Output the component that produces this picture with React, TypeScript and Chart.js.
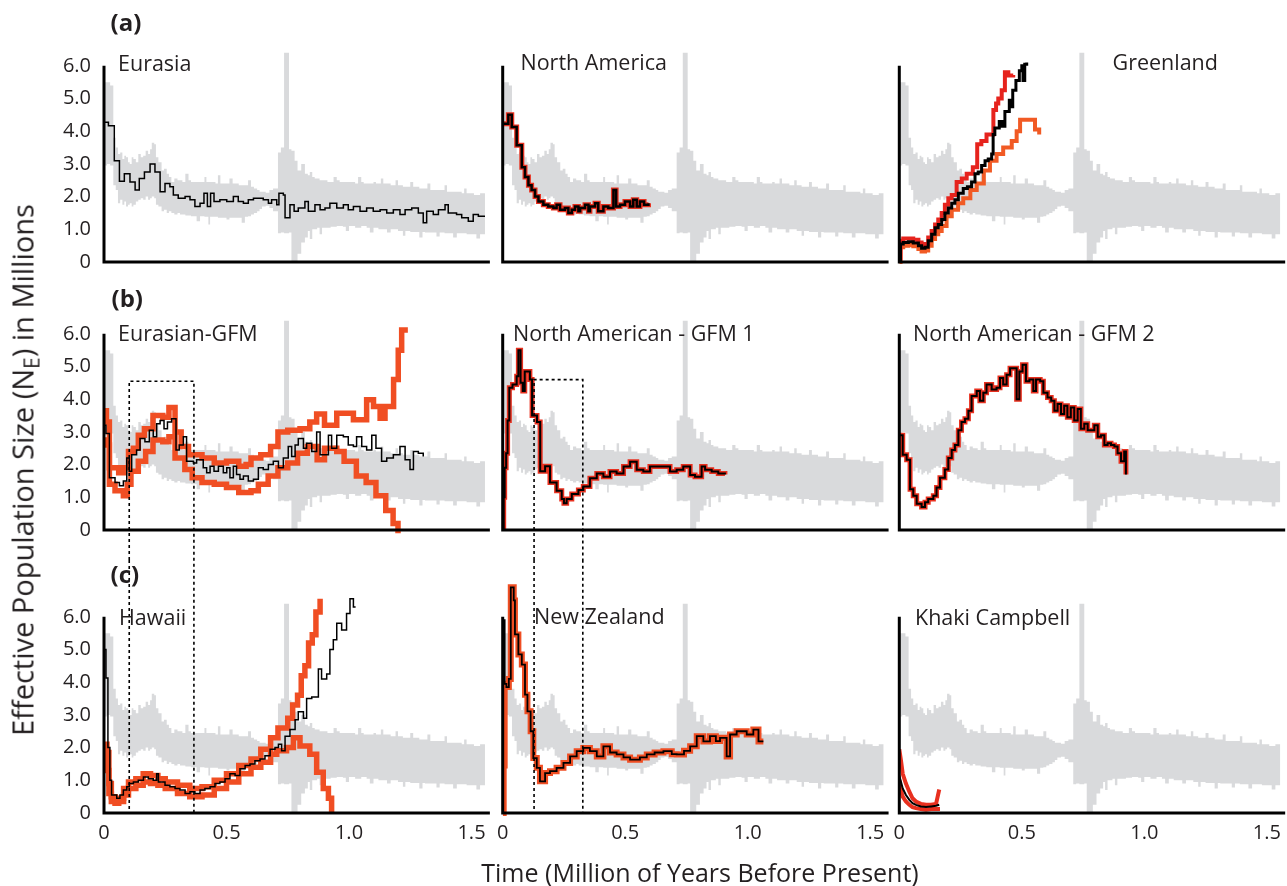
import React, { useEffect, useRef } from 'react';
import { Chart, registerables } from 'chart.js';

Chart.register(...registerables);

type Pair = [number, number];
type Triple = [number, number, number];

// ---------------- data ----------------
const xTicks = [0, 0.5, 1.0, 1.5];
const yTicks = [0, 1, 2, 3, 4, 5, 6];

// shared Eurasia bootstrap envelope (grey band): [time, upper, lower]
const greyBand: Triple[] = [
  [0, 5.5, 2.95], [0.012, 5.5, 3.0], [0.025, 5.4, 2.95], [0.038, 3.8, 2.35], [0.048, 3.5, 2.2], [0.057, 3.3, 1.8],
  [0.066, 3.35, 1.9], [0.075, 3.15, 1.75], [0.083, 3.25, 1.85], [0.09, 3.2, 1.7], [0.098, 3.05, 1.75], [0.105, 3.0, 1.8],
  [0.113, 3.2, 1.7], [0.12, 3.15, 1.75], [0.13, 3.05, 1.85], [0.14, 3.3, 1.9], [0.15, 3.2, 1.95], [0.16, 3.25, 1.9],
  [0.17, 3.4, 2.0], [0.18, 3.3, 1.9], [0.188, 3.45, 1.95], [0.195, 3.65, 2.0], [0.205, 3.6, 1.95], [0.212, 3.2, 1.75],
  [0.222, 3.05, 1.7], [0.235, 2.8, 1.55], [0.245, 2.85, 1.6], [0.256, 2.7, 1.5], [0.265, 2.6, 1.55], [0.275, 2.45, 1.5],
  [0.287, 2.55, 1.45], [0.3, 2.5, 1.5], [0.31, 2.5, 1.45], [0.32, 2.45, 1.45], [0.332, 2.7, 1.42], [0.345, 2.5, 1.42],
  [0.355, 2.45, 1.4], [0.365, 2.45, 1.4], [0.378, 2.45, 1.25], [0.392, 2.45, 1.4], [0.402, 2.45, 1.4], [0.41, 2.6, 1.38],
  [0.418, 2.45, 1.38], [0.426, 2.45, 1.15], [0.433, 2.45, 1.38], [0.445, 2.45, 1.38], [0.455, 2.4, 1.38], [0.465, 2.65, 1.35],
  [0.475, 2.4, 1.35], [0.487, 2.4, 1.35], [0.5, 2.4, 1.3], [0.512, 2.55, 1.35], [0.525, 2.4, 1.35], [0.537, 2.4, 1.35],
  [0.55, 2.35, 1.35], [0.562, 2.35, 1.2], [0.575, 2.35, 1.38], [0.588, 2.5, 1.4], [0.6, 2.3, 1.45], [0.612, 2.25, 1.5],
  [0.625, 2.2, 1.55], [0.635, 2.15, 1.62], [0.645, 2.15, 1.7], [0.66, 2.12, 1.72], [0.675, 2.2, 1.65], [0.69, 2.25, 1.55],
  [0.71, 3.35, 0.88], [0.722, 3.5, 0.9], [0.735, 6.4, 0.88], [0.755, 3.45, 0.9], [0.765, 3.4, 0.0], [0.778, 3.1, 0.0],
  [0.79, 2.8, 0.25], [0.805, 3.0, 0.6], [0.82, 2.7, 0.75], [0.832, 2.65, 0.95], [0.84, 2.75, 0.7], [0.85, 2.6, 1.0],
  [0.86, 2.55, 1.0], [0.87, 2.55, 1.05], [0.88, 2.5, 0.85], [0.89, 2.5, 1.05], [0.9, 2.5, 1.05], [0.912, 2.45, 1.05],
  [0.925, 2.45, 1.08], [0.937, 2.6, 1.08], [0.95, 2.5, 1.1], [0.962, 2.45, 1.1], [0.975, 2.45, 1.08], [0.987, 2.45, 0.95],
  [1.0, 2.45, 1.1], [1.012, 2.45, 1.1], [1.025, 2.4, 1.05], [1.037, 2.6, 1.05], [1.05, 2.45, 1.1], [1.06, 2.4, 1.1],
  [1.072, 2.4, 1.05], [1.085, 2.4, 0.9], [1.1, 2.45, 1.05], [1.11, 2.4, 1.05], [1.12, 2.4, 1.0], [1.13, 2.55, 1.0],
  [1.14, 2.4, 1.0], [1.155, 2.4, 0.9], [1.17, 2.35, 1.0], [1.18, 2.35, 1.0], [1.19, 2.5, 1.0], [1.2, 2.35, 0.95],
  [1.21, 2.35, 0.95], [1.22, 2.3, 0.8], [1.23, 2.3, 0.95], [1.24, 2.3, 0.95], [1.25, 2.45, 0.92], [1.262, 2.3, 0.92],
  [1.275, 2.3, 0.92], [1.287, 2.25, 0.75], [1.3, 2.25, 0.92], [1.31, 2.25, 0.9], [1.32, 2.4, 0.9], [1.332, 2.2, 0.9],
  [1.345, 2.2, 0.9], [1.357, 2.2, 0.78], [1.37, 2.2, 0.9], [1.38, 2.2, 0.9], [1.39, 2.35, 0.88], [1.4, 2.15, 0.88],
  [1.41, 2.15, 0.88], [1.425, 2.15, 0.75], [1.44, 2.15, 0.88], [1.45, 2.15, 0.88], [1.46, 2.1, 0.88], [1.47, 2.25, 0.88],
  [1.48, 2.1, 0.85], [1.49, 2.1, 0.85], [1.5, 2.1, 0.85], [1.51, 2.05, 0.85], [1.52, 2.05, 0.72], [1.535, 2.1, 0.85],
  [1.555, 2.1, 0.85],
];

// (a) Eurasia
const eurasiaNe: Pair[] = [[0, 4.27], [0.018, 4.17], [0.042, 3.1], [0.063, 2.47], [0.083, 2.7], [0.106, 2.45], [0.127, 2.2], [0.144, 2.55], [0.165, 2.75], [0.188, 3.0], [0.208, 2.75], [0.229, 2.15], [0.249, 2.4], [0.269, 2.3], [0.283, 2.05], [0.303, 1.95], [0.331, 2.0], [0.351, 1.9], [0.371, 1.7], [0.392, 1.8], [0.408, 2.1], [0.422, 1.7], [0.435, 2.1], [0.449, 1.85], [0.473, 1.9], [0.501, 1.85], [0.528, 2.0], [0.548, 1.85], [0.569, 1.8], [0.589, 1.9], [0.61, 1.95], [0.65, 1.9], [0.671, 1.8], [0.684, 1.9], [0.705, 1.75], [0.714, 2.1], [0.732, 2.05], [0.739, 1.35], [0.759, 1.75], [0.776, 1.55], [0.793, 1.65], [0.82, 1.85], [0.834, 1.55], [0.861, 1.75], [0.882, 1.6], [0.902, 1.65], [0.922, 1.8], [0.95, 1.65], [0.977, 1.75], [0.997, 1.6], [1.018, 1.7], [1.045, 1.55], [1.072, 1.65], [1.099, 1.55], [1.127, 1.6], [1.154, 1.5], [1.181, 1.6], [1.208, 1.45], [1.229, 1.6], [1.256, 1.65], [1.283, 1.5], [1.303, 1.2], [1.317, 1.55], [1.344, 1.45], [1.365, 1.6], [1.392, 1.75], [1.405, 1.5], [1.439, 1.45], [1.46, 1.35], [1.487, 1.25], [1.507, 1.45], [1.528, 1.4], [1.555, 1.4]];

// (a) North America
const northAmericaNe: Pair[] = [[0, 4.23], [0.023, 4.5], [0.037, 4.13], [0.057, 3.57], [0.078, 2.9], [0.091, 2.6], [0.105, 2.35], [0.118, 2.2], [0.132, 2.0], [0.146, 1.85], [0.166, 1.75], [0.186, 1.7], [0.207, 1.65], [0.22, 1.75], [0.234, 1.6], [0.254, 1.65], [0.268, 1.5], [0.282, 1.6], [0.295, 1.7], [0.309, 1.55], [0.316, 1.65], [0.336, 1.75], [0.35, 1.55], [0.356, 1.7], [0.377, 1.8], [0.39, 1.55], [0.411, 1.7], [0.431, 1.65], [0.452, 2.2], [0.463, 1.7], [0.479, 1.75], [0.499, 1.85], [0.52, 1.7], [0.533, 1.9], [0.547, 1.7], [0.56, 1.85], [0.577, 1.75], [0.595, 1.8]];

// (a) Greenland
const greenlandNe: Pair[] = [[0, 0.05], [0.005, 0.55], [0.016, 0.6], [0.037, 0.62], [0.057, 0.58], [0.078, 0.5], [0.091, 0.42], [0.105, 0.45], [0.118, 0.65], [0.132, 0.85], [0.146, 1.05], [0.159, 1.15], [0.173, 1.3], [0.186, 1.5], [0.2, 1.65], [0.214, 1.8], [0.227, 1.9], [0.241, 2.1], [0.261, 2.25], [0.278, 2.3], [0.295, 2.45], [0.309, 2.7], [0.322, 2.75], [0.336, 2.95], [0.35, 3.1], [0.363, 3.15], [0.377, 3.3], [0.383, 3.9], [0.39, 4.1], [0.408, 4.3], [0.42, 4.15], [0.431, 4.6], [0.449, 4.95], [0.456, 4.75], [0.463, 5.25], [0.476, 5.55], [0.49, 5.85], [0.5, 6.0], [0.505, 5.55], [0.512, 6.05], [0.52, 6.1]];
const greenlandUpper: Pair[] = [[0, 0.1], [0.005, 0.65], [0.016, 0.72], [0.037, 0.72], [0.057, 0.68], [0.078, 0.6], [0.091, 0.52], [0.105, 0.55], [0.118, 0.75], [0.132, 0.95], [0.146, 1.15], [0.159, 1.3], [0.173, 1.5], [0.186, 1.75], [0.2, 1.95], [0.214, 2.05], [0.234, 2.45], [0.255, 2.55], [0.275, 2.7], [0.3, 2.9], [0.318, 3.6], [0.335, 3.7], [0.356, 3.9], [0.384, 4.65], [0.395, 4.85], [0.404, 5.0], [0.418, 5.25], [0.431, 5.8], [0.445, 5.7], [0.465, 5.72]];
const greenlandLower: Pair[] = [[0, 0.0], [0.005, 0.45], [0.016, 0.5], [0.037, 0.52], [0.057, 0.48], [0.078, 0.4], [0.091, 0.32], [0.105, 0.35], [0.118, 0.5], [0.132, 0.7], [0.146, 0.85], [0.159, 0.95], [0.173, 1.1], [0.193, 1.4], [0.214, 1.6], [0.24, 1.8], [0.261, 1.95], [0.29, 2.2], [0.316, 2.4], [0.345, 2.8], [0.37, 3.1], [0.397, 3.3], [0.424, 3.5], [0.459, 3.7], [0.479, 4.0], [0.493, 4.35], [0.547, 4.35], [0.554, 4.05], [0.571, 3.9]];

// (b) Eurasian-GFM
const eurasianGfmNe: Pair[] = [[0, 3.2], [0.008, 2.95], [0.022, 1.6], [0.045, 1.45], [0.063, 1.35], [0.079, 1.5], [0.093, 2.2], [0.103, 1.8], [0.113, 2.3], [0.133, 2.45], [0.147, 2.8], [0.167, 2.7], [0.185, 3.05], [0.201, 2.85], [0.215, 3.25], [0.229, 3.35], [0.245, 3.1], [0.259, 3.3], [0.276, 3.4], [0.294, 2.45], [0.307, 2.6], [0.324, 2.85], [0.337, 2.1], [0.365, 2.05], [0.378, 2.15], [0.405, 1.9], [0.419, 1.75], [0.433, 1.95], [0.449, 1.8], [0.467, 1.95], [0.487, 1.75], [0.501, 1.9], [0.514, 1.6], [0.528, 1.95], [0.541, 1.7], [0.555, 1.55], [0.569, 1.65], [0.589, 1.5], [0.61, 1.55], [0.63, 1.9], [0.65, 1.85], [0.671, 2.0], [0.691, 2.1], [0.712, 1.9], [0.732, 2.2], [0.752, 2.55], [0.766, 2.25], [0.78, 2.6], [0.793, 2.8], [0.814, 2.5], [0.827, 2.65], [0.848, 2.4], [0.868, 3.0], [0.882, 2.3], [0.902, 2.3], [0.916, 2.9], [0.929, 2.5], [0.95, 2.9], [0.977, 2.85], [0.997, 2.6], [1.018, 2.55], [1.031, 2.85], [1.052, 2.55], [1.072, 2.45], [1.093, 2.9], [1.11, 2.5], [1.133, 2.1], [1.154, 2.2], [1.181, 2.3], [1.208, 2.55], [1.229, 2.15], [1.249, 1.85], [1.263, 2.4], [1.283, 2.35], [1.303, 2.25]];
const eurasianGfmUpper: Pair[] = [[0, 3.65], [0.01, 3.3], [0.022, 1.9], [0.06, 1.75], [0.079, 1.9], [0.1, 2.4], [0.12, 2.5], [0.14, 2.9], [0.165, 3.1], [0.2, 3.5], [0.24, 3.45], [0.265, 3.75], [0.29, 3.0], [0.315, 2.55], [0.345, 2.3], [0.4, 2.2], [0.45, 2.05], [0.5, 2.1], [0.55, 1.95], [0.58, 2.0], [0.6, 2.2], [0.64, 2.3], [0.68, 2.55], [0.71, 3.0], [0.75, 3.05], [0.8, 3.1], [0.84, 3.3], [0.868, 3.55], [0.9, 3.2], [0.95, 3.57], [1.018, 3.37], [1.072, 3.98], [1.1, 3.78], [1.127, 3.42], [1.147, 3.78], [1.182, 4.6], [1.201, 5.5], [1.215, 6.12], [1.229, 6.2]];
const eurasianGfmLower: Pair[] = [[0, 2.75], [0.01, 2.6], [0.022, 1.4], [0.045, 1.2], [0.079, 1.05], [0.095, 1.4], [0.11, 1.8], [0.14, 2.1], [0.17, 2.4], [0.2, 2.75], [0.24, 2.7], [0.265, 2.85], [0.29, 2.2], [0.33, 1.85], [0.36, 1.6], [0.4, 1.45], [0.45, 1.4], [0.5, 1.3], [0.55, 1.15], [0.6, 1.2], [0.63, 1.4], [0.67, 1.65], [0.71, 1.9], [0.75, 2.05], [0.79, 2.35], [0.83, 2.55], [0.87, 2.15], [0.9, 2.5], [0.95, 2.4], [0.98, 2.1], [1.03, 1.65], [1.07, 1.45], [1.11, 1.05], [1.15, 0.6], [1.18, 0.2], [1.2, -0.1]];

// (b) North American - GFM 1
const naGfm1Ne: Pair[] = [[0, 0.05], [0.004, 1.0], [0.008, 1.9], [0.014, 2.35], [0.02, 3.35], [0.027, 4.35], [0.04, 4.45], [0.057, 4.7], [0.064, 5.5], [0.073, 4.5], [0.082, 4.25], [0.09, 4.85], [0.111, 4.6], [0.12, 3.5], [0.14, 3.3], [0.153, 1.8], [0.173, 1.95], [0.193, 1.45], [0.22, 1.2], [0.241, 0.95], [0.25, 0.82], [0.261, 0.95], [0.282, 1.1], [0.309, 1.22], [0.329, 1.33], [0.356, 1.58], [0.384, 1.73], [0.411, 1.63], [0.438, 1.79], [0.465, 1.73], [0.493, 1.94], [0.52, 2.09], [0.547, 1.84], [0.574, 1.79], [0.601, 1.94], [0.683, 1.79], [0.71, 1.84], [0.737, 1.94], [0.765, 1.68], [0.785, 1.63], [0.812, 1.94], [0.826, 1.84], [0.853, 1.79], [0.88, 1.73], [0.907, 1.7]];

// (b) North American - GFM 2
const naGfm2Ne: Pair[] = [[0, 2.9], [0.014, 2.3], [0.03, 2.15], [0.044, 1.25], [0.057, 1.05], [0.071, 0.8], [0.091, 0.7], [0.105, 0.85], [0.118, 0.95], [0.139, 1.05], [0.152, 1.3], [0.166, 1.6], [0.186, 1.85], [0.2, 2.2], [0.214, 2.45], [0.227, 2.6], [0.241, 3.05], [0.254, 3.3], [0.268, 3.4], [0.282, 3.65], [0.295, 4.1], [0.316, 4.25], [0.329, 3.95], [0.343, 4.2], [0.356, 4.45], [0.377, 4.3], [0.397, 4.35], [0.411, 4.65], [0.424, 4.45], [0.438, 4.75], [0.452, 4.95], [0.479, 4.0], [0.49, 4.85], [0.503, 5.05], [0.517, 4.55], [0.531, 4.6], [0.547, 4.25], [0.558, 4.6], [0.575, 4.55], [0.588, 4.2], [0.605, 4.05], [0.62, 3.95], [0.633, 3.65], [0.646, 3.85], [0.66, 3.55], [0.673, 3.8], [0.686, 3.45], [0.7, 3.75], [0.714, 3.35], [0.728, 3.7], [0.741, 3.1], [0.755, 3.25], [0.769, 3.05], [0.782, 3.05], [0.796, 3.2], [0.81, 2.85], [0.823, 2.9], [0.837, 2.6], [0.85, 2.65], [0.864, 2.6], [0.878, 2.55], [0.891, 2.35], [0.905, 2.1], [0.918, 2.4], [0.925, 1.7]];

// (c) Hawaii
const hawaiiNe: Pair[] = [[0, 5.0], [0.008, 4.13], [0.016, 2.0], [0.024, 1.0], [0.031, 0.55], [0.052, 0.45], [0.065, 0.55], [0.079, 0.7], [0.093, 0.8], [0.103, 0.9], [0.12, 0.95], [0.14, 1.0], [0.161, 1.1], [0.181, 1.05], [0.201, 1.0], [0.215, 1.2], [0.222, 0.95], [0.249, 0.85], [0.269, 0.8], [0.29, 0.75], [0.31, 0.7], [0.331, 0.6], [0.351, 0.65], [0.371, 0.6], [0.392, 0.7], [0.412, 0.75], [0.433, 0.8], [0.453, 0.9], [0.473, 0.95], [0.494, 1.05], [0.514, 1.2], [0.535, 1.15], [0.555, 1.35], [0.576, 1.45], [0.596, 1.5], [0.616, 1.6], [0.637, 1.65], [0.657, 1.75], [0.678, 1.95], [0.698, 2.0], [0.712, 2.1], [0.725, 1.9], [0.739, 2.35], [0.759, 2.55], [0.78, 2.85], [0.793, 3.1], [0.814, 2.9], [0.827, 3.5], [0.848, 3.55], [0.875, 4.4], [0.888, 4.1], [0.909, 4.25], [0.922, 5.0], [0.936, 5.3], [0.95, 5.8], [0.97, 5.6], [0.99, 6.1], [1.004, 6.55], [1.018, 6.3], [1.027, 6.3]];
const hawaiiUpper: Pair[] = [[0, 2.1], [0.012, 1.85], [0.02, 0.9], [0.03, 0.5], [0.045, 0.35], [0.06, 0.45], [0.08, 0.75], [0.1, 0.95], [0.13, 1.05], [0.16, 1.2], [0.19, 1.15], [0.22, 1.05], [0.25, 0.95], [0.3, 0.85], [0.35, 0.75], [0.4, 0.8], [0.45, 1.0], [0.5, 1.2], [0.55, 1.45], [0.6, 1.65], [0.64, 1.95], [0.68, 2.3], [0.71, 2.6], [0.75, 2.9], [0.77, 3.3], [0.79, 3.6], [0.805, 4.2], [0.82, 4.5], [0.835, 5.2], [0.85, 5.45], [0.865, 6.15], [0.882, 6.55]];
const hawaiiLower: Pair[] = [[0, 1.7], [0.012, 1.3], [0.02, 0.6], [0.03, 0.35], [0.045, 0.3], [0.06, 0.35], [0.08, 0.55], [0.1, 0.75], [0.13, 0.85], [0.16, 0.95], [0.19, 0.9], [0.22, 0.85], [0.25, 0.75], [0.3, 0.6], [0.35, 0.5], [0.4, 0.55], [0.45, 0.75], [0.5, 0.95], [0.55, 1.2], [0.6, 1.4], [0.64, 1.55], [0.68, 1.8], [0.705, 1.9], [0.745, 2.0], [0.773, 2.3], [0.8, 2.05], [0.84, 1.8], [0.868, 1.25], [0.895, 0.75], [0.916, 0.45], [0.929, 0.0]];

// (c) New Zealand
const newZealandNe: Pair[] = [[0.008, 3.95], [0.015, 3.85], [0.025, 4.1], [0.033, 6.9], [0.045, 6.5], [0.05, 5.46], [0.064, 4.85], [0.078, 4.54], [0.091, 3.62], [0.101, 3.11], [0.114, 2.5], [0.125, 1.68], [0.139, 1.38], [0.152, 0.97], [0.173, 1.22], [0.193, 1.28], [0.22, 1.38], [0.248, 1.53], [0.275, 1.73], [0.302, 1.89], [0.329, 1.99], [0.356, 1.89], [0.384, 1.73], [0.411, 2.04], [0.438, 1.85], [0.465, 1.79], [0.493, 1.7], [0.52, 1.63], [0.56, 1.7], [0.588, 1.79], [0.62, 1.85], [0.656, 1.89], [0.69, 1.8], [0.71, 1.79], [0.74, 1.9], [0.765, 2.04], [0.792, 2.35], [0.819, 2.19], [0.846, 2.35], [0.87, 2.2], [0.887, 2.3], [0.914, 1.73], [0.928, 2.4], [0.955, 2.5], [0.996, 2.4], [1.023, 2.55], [1.044, 2.19], [1.064, 2.19]];
const newZealandRedStart: Pair[] = [[0, 0], [0.004, 1.45]];
const newZealandBlackStart: Pair[] = [[0, 5.9]];

// (c) Khaki Campbell
const khakiNe: Pair[] = [[0, 1.15], [0.007, 0.95], [0.014, 0.75], [0.027, 0.55], [0.041, 0.4], [0.054, 0.3], [0.068, 0.25], [0.088, 0.2], [0.109, 0.18], [0.13, 0.2], [0.15, 0.22], [0.163, 0.25]];
const khakiUpper: Pair[] = [[0, 1.95], [0.007, 1.6], [0.014, 1.2], [0.027, 0.9], [0.041, 0.65], [0.054, 0.45], [0.068, 0.35], [0.088, 0.28], [0.109, 0.25], [0.13, 0.25], [0.15, 0.28], [0.163, 0.72], [0.166, 0.72]];
const khakiLower: Pair[] = [[0, 1.0], [0.007, 0.7], [0.014, 0.5], [0.027, 0.35], [0.041, 0.25], [0.054, 0.18], [0.068, 0.15], [0.088, 0.12], [0.109, 0.1], [0.13, 0.12], [0.15, 0.12], [0.166, 0.12]];

// dotted selection boxes (time range, top value)
const eurasianBox = [0.103, 0.367];
const eurasianBoxTop = 4.55;
const northAmericanBox = [0.128, 0.327];
const northAmericanBoxTop = 4.6;

// ---------------- style / layout ----------------
const FONT = '"Open Sans", "Noto Sans", "DejaVu Sans", sans-serif';
const TEXT = '#231f20';
const GRAY = '#d9dadc';
const BLACK = '#000000';
const RED = '#e8301f';
const ORANGE_RED = '#f04e23';
const GL_RED = '#e6231d';
const GL_ORANGE = '#f15a24';

const X_UNIT = 245;
const Y_UNIT = 32.7;
const X_MIN = 0;
const X_MAX = 1.575;
const Y_MIN = -0.2;
const Y_MAX = 7.2;
const AXIS_TOP = 6;

const COLS = [
  { left: 0, width: 496, axisX: 104 },
  { left: 496, width: 397, axisX: 502.7 },
  { left: 893, width: 394, axisX: 899.3 },
];
const ROWS = [
  { top: 0, height: 290, zeroY: 262 },
  { top: 290, height: 270, zeroY: 530 },
  { top: 560, height: 326, zeroY: 813 },
];

interface Series { data: Pair[]; color: string; width: number; stepped?: boolean }
interface BoxSpec { range: number[]; top: number; part: 'upper' | 'lower' }
interface PanelSpec { row: number; col: number; lines: Series[]; box?: BoxSpec }

const PANELS: PanelSpec[] = [
  { row: 0, col: 0, lines: [{ data: eurasiaNe, color: BLACK, width: 1.5 }] },
  { row: 0, col: 1, lines: [
    { data: northAmericaNe, color: BLACK, width: 2.5 },
    { data: northAmericaNe, color: RED, width: 5 },
  ] },
  { row: 0, col: 2, lines: [
    { data: greenlandNe, color: BLACK, width: 3 },
    { data: greenlandUpper, color: GL_RED, width: 4 },
    { data: greenlandLower, color: GL_ORANGE, width: 4 },
  ] },
  { row: 1, col: 0, box: { range: eurasianBox, top: eurasianBoxTop, part: 'upper' }, lines: [
    { data: eurasianGfmNe, color: BLACK, width: 1.5 },
    { data: eurasianGfmUpper, color: ORANGE_RED, width: 5.5 },
    { data: eurasianGfmLower, color: ORANGE_RED, width: 5.5 },
  ] },
  { row: 1, col: 1, box: { range: northAmericanBox, top: northAmericanBoxTop, part: 'upper' }, lines: [
    { data: naGfm1Ne, color: BLACK, width: 2 },
    { data: naGfm1Ne, color: RED, width: 5 },
  ] },
  { row: 1, col: 2, lines: [
    { data: naGfm2Ne, color: BLACK, width: 2 },
    { data: naGfm2Ne, color: RED, width: 5 },
  ] },
  { row: 2, col: 0, box: { range: eurasianBox, top: eurasianBoxTop, part: 'lower' }, lines: [
    { data: hawaiiNe, color: BLACK, width: 1.5 },
    { data: hawaiiUpper, color: ORANGE_RED, width: 5.5 },
    { data: hawaiiLower, color: ORANGE_RED, width: 5.5 },
  ] },
  { row: 2, col: 1, box: { range: northAmericanBox, top: northAmericanBoxTop, part: 'lower' }, lines: [
    { data: [...newZealandBlackStart, ...newZealandNe], color: BLACK, width: 1.8 },
    { data: [...newZealandRedStart, ...newZealandNe], color: ORANGE_RED, width: 6 },
  ] },
  { row: 2, col: 2, lines: [
    { data: khakiNe, color: BLACK, width: 2, stepped: false },
    { data: khakiUpper, color: RED, width: 4, stepped: false },
    { data: khakiLower, color: RED, width: 4, stepped: false },
  ] },
];

const TITLES = [
  { text: 'Eurasia', x: 118, y: 63 },
  { text: 'North America', x: 520.5, y: 62.5 },
  { text: 'Greenland', x: 1112.5, y: 62 },
  { text: 'Eurasian-GFM', x: 118, y: 333.5 },
  { text: 'North American - GFM 1', x: 513, y: 333 },
  { text: 'North American - GFM 2', x: 913, y: 333 },
  { text: 'Hawaii', x: 119, y: 617 },
  { text: 'New Zealand', x: 534, y: 616 },
  { text: 'Khaki Campbell', x: 915, y: 617 },
];
const PANEL_LETTERS = [
  { text: '(a)', x: 110.5, y: 25 },
  { text: '(b)', x: 111.5, y: 301 },
  { text: '(c)', x: 110.5, y: 577 },
];

const fmt = (v: number | string) => {
  const n = Number(v);
  return n === 0 ? '0' : n.toFixed(1);
};
const toXY = (pairs: Pair[]) => pairs.map(([x, y]) => ({ x, y }));

function Panel({ spec }: { spec: PanelSpec }) {
  const ref = useRef<HTMLCanvasElement | null>(null);
  const col = COLS[spec.col];
  const row = ROWS[spec.row];
  const yW = col.axisX - col.left;
  const chartW = (X_MAX - X_MIN) * X_UNIT;
  const padR = col.width - yW - chartW;
  const chartTop = row.zeroY - Y_MAX * Y_UNIT;
  const padT = chartTop - row.top;
  const chartBottom = row.zeroY - Y_MIN * Y_UNIT;
  const xH = row.top + row.height - chartBottom;

  useEffect(() => {
    if (!ref.current) return;
    const box = spec.box;
    const decor = {
      id: 'panelDecor',
      afterDatasetsDraw(chart: any) {
        const { ctx, chartArea } = chart;
        const xs = chart.scales.x;
        const ys = chart.scales.y;
        const y0 = ys.getPixelForValue(0);
        ctx.save();
        if (box) {
          const xa = xs.getPixelForValue(box.range[0]);
          const xb = xs.getPixelForValue(box.range[1]);
          ctx.strokeStyle = '#000';
          ctx.lineWidth = 1.6;
          ctx.setLineDash([3, 3]);
          ctx.beginPath();
          if (box.part === 'upper') {
            const yt = ys.getPixelForValue(box.top);
            ctx.moveTo(xa, chart.height);
            ctx.lineTo(xa, yt);
            ctx.lineTo(xb, yt);
            ctx.lineTo(xb, chart.height);
          } else {
            ctx.moveTo(xa, 0);
            ctx.lineTo(xa, y0);
            ctx.lineTo(xb, y0);
            ctx.lineTo(xb, 0);
          }
          ctx.stroke();
          ctx.setLineDash([]);
        }
        const x0 = xs.getPixelForValue(0);
        const yTop = ys.getPixelForValue(AXIS_TOP);
        ctx.strokeStyle = '#000';
        ctx.lineWidth = 3;
        ctx.lineJoin = 'miter';
        ctx.beginPath();
        ctx.moveTo(x0, yTop);
        ctx.lineTo(x0, y0);
        ctx.lineTo(chartArea.right, y0);
        ctx.stroke();
        ctx.restore();
      },
    };

    const datasets: any[] = [
      ...spec.lines.map((s) => ({
        data: toXY(s.data),
        borderColor: s.color,
        borderWidth: s.width,
        pointRadius: 0,
        stepped: s.stepped === false ? false : true,
        tension: 0,
        fill: false,
        borderJoinStyle: 'miter',
      })),
      {
        data: greyBand.map(([t, hi]) => ({ x: t, y: hi })),
        borderColor: 'rgba(0,0,0,0)',
        borderWidth: 0,
        backgroundColor: GRAY,
        fill: '+1',
        pointRadius: 0,
        stepped: true,
      },
      {
        data: greyBand.map(([t, , lo]) => ({ x: t, y: lo })),
        borderColor: 'rgba(0,0,0,0)',
        borderWidth: 0,
        backgroundColor: GRAY,
        fill: false,
        pointRadius: 0,
        stepped: true,
      },
    ];

    const chart = new Chart(ref.current, {
      type: 'line',
      data: { datasets },
      plugins: [decor],
      options: {
        responsive: false,
        animation: false,
        events: [],
        layout: { padding: { left: 0, right: padR, top: padT, bottom: 0 } },
        plugins: { legend: { display: false }, tooltip: { enabled: false }, title: { display: false } },
        scales: {
          x: {
            type: 'linear',
            min: X_MIN,
            max: X_MAX,
            grid: { display: false, drawTicks: false },
            border: { display: false },
            ticks: {
              display: spec.row === 2,
              padding: 2,
              maxRotation: 0,
              autoSkip: false,
              color: TEXT,
              font: { family: FONT, size: 20 },
              callback: fmt,
            },
            afterBuildTicks: (s: any) => { s.ticks = xTicks.map((v) => ({ value: v })); },
            afterFit: (s: any) => {
              s.height = xH;
              s.paddingLeft = 0; s.paddingRight = 0; s.paddingTop = 0; s.paddingBottom = 0;
            },
          },
          y: {
            type: 'linear',
            min: Y_MIN,
            max: Y_MAX,
            grid: { display: false, drawTicks: false },
            border: { display: false },
            ticks: {
              display: spec.col === 0,
              padding: 13,
              color: TEXT,
              font: { family: FONT, size: 20 },
              callback: fmt,
            },
            afterBuildTicks: (s: any) => { s.ticks = yTicks.map((v) => ({ value: v })); },
            afterFit: (s: any) => {
              s.width = yW;
              s.paddingLeft = 0; s.paddingRight = 0; s.paddingTop = 0; s.paddingBottom = 0;
            },
          },
        },
      } as any,
    });
    return () => chart.destroy();
  }, []);

  return (
    <canvas
      ref={ref}
      width={col.width}
      height={row.height}
      style={{ position: 'absolute', left: col.left, top: row.top, width: col.width, height: row.height }}
    />
  );
}

export default function App() {
  return (
    <div
      style={{
        position: 'absolute', left: 0, top: 0, width: 1287, height: 886, overflow: 'hidden',
        background: '#ffffff', fontFamily: FONT, color: TEXT,
      }}
    >
      {PANELS.map((p, i) => <Panel key={i} spec={p} />)}
      {TITLES.map((t, i) => (
        <div key={'t' + i} style={{ position: 'absolute', left: t.x, top: t.y - 0.53 * 21.5, fontSize: 21.5, lineHeight: 1, whiteSpace: 'nowrap' }}>
          {t.text}
        </div>
      ))}
      {PANEL_LETTERS.map((t, i) => (
        <div key={'l' + i} style={{ position: 'absolute', left: t.x, top: t.y - 0.628 * 24, fontSize: 24, fontWeight: 700, lineHeight: 1, whiteSpace: 'nowrap' }}>
          {t.text}
        </div>
      ))}
      <div style={{ position: 'absolute', left: 700, top: 873, transform: 'translate(-50%, -53%)', fontSize: 25, lineHeight: 1, whiteSpace: 'nowrap' }}>
        Time (Million of Years Before Present)
      </div>
      <div style={{ position: 'absolute', left: 22, top: 470, transform: 'translate(-50%, -50%) rotate(-90deg)', fontSize: 29, lineHeight: 1, whiteSpace: 'nowrap' }}>
        Effective Population Size (N<sub style={{ fontSize: '0.72em', verticalAlign: '-0.3em', lineHeight: 0 }}>E</sub>) in Millions
      </div>
    </div>
  );
}
